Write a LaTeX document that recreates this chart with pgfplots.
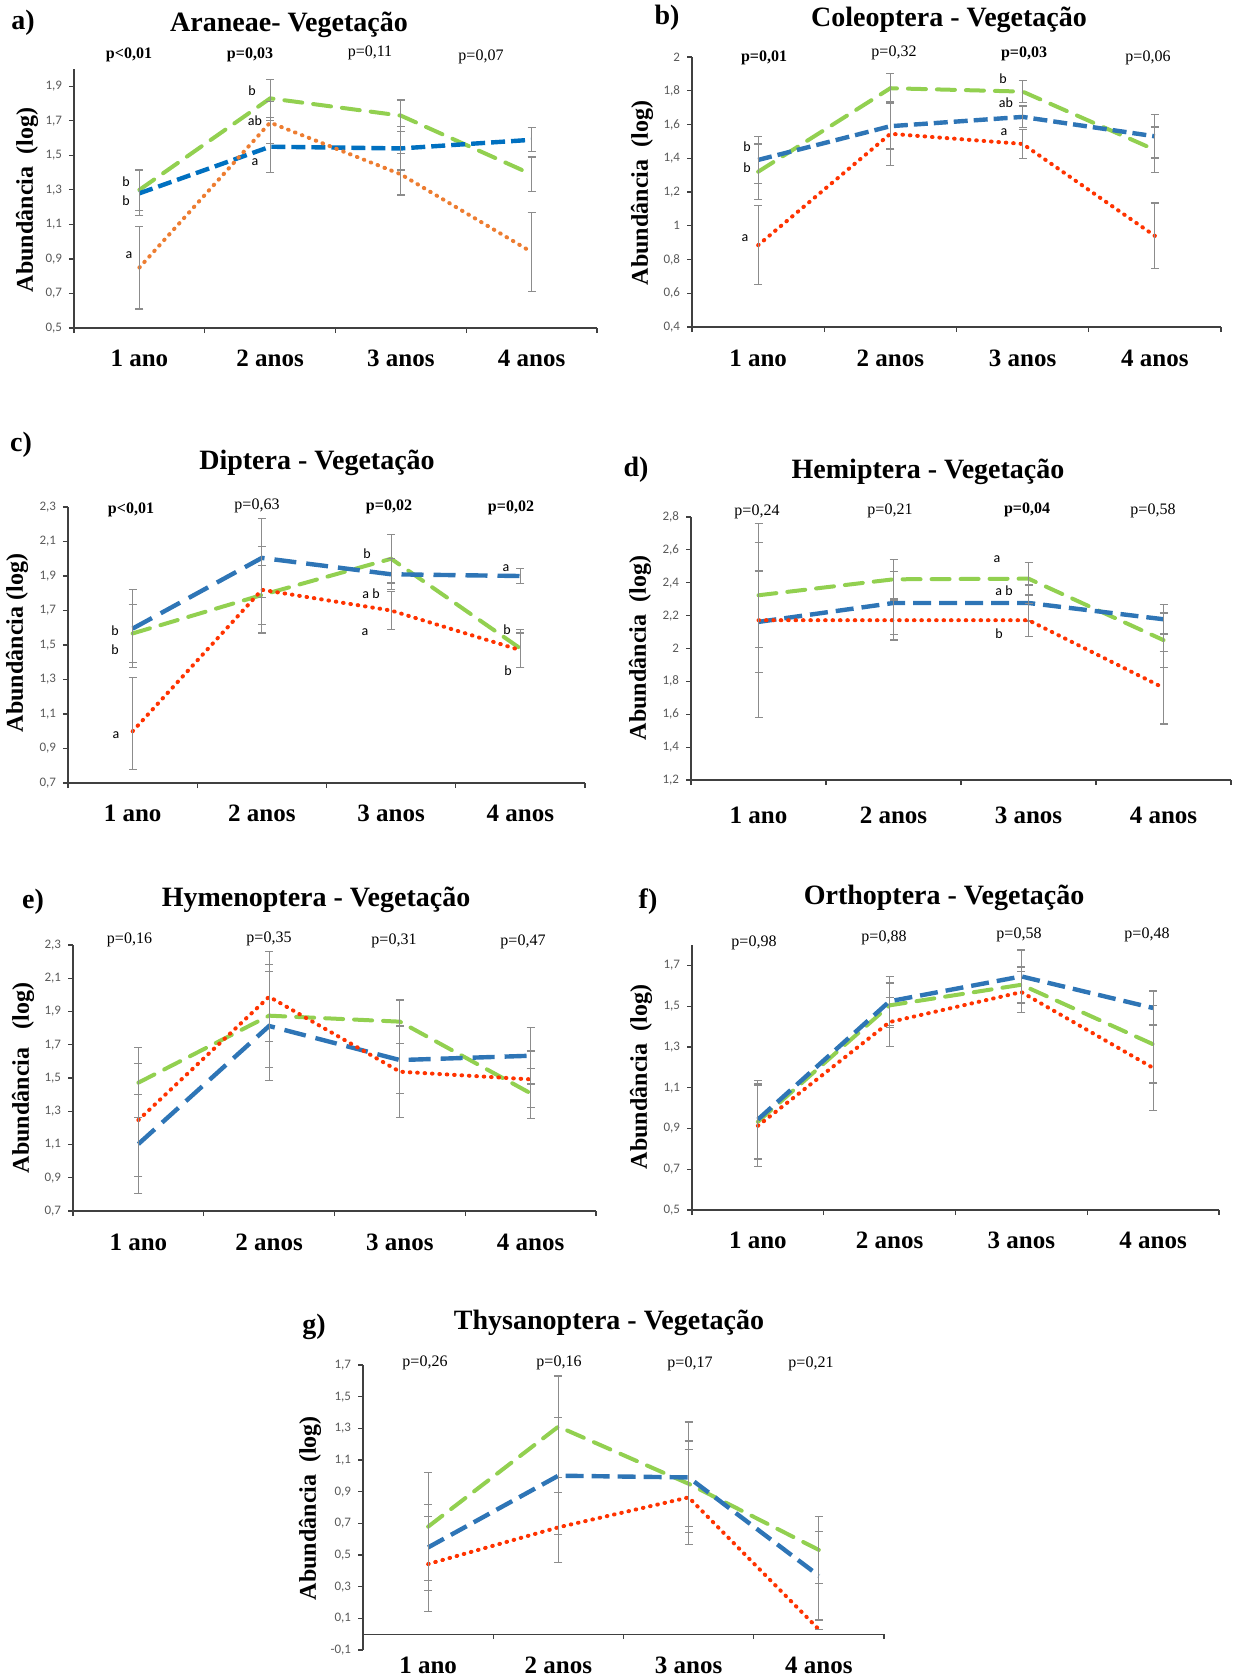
\documentclass[border=0pt]{standalone}
\usepackage{fontspec}
\setmainfont{Liberation Serif}
\newfontfamily\carlito{Carlito}
\usepackage{pgfplots}
\pgfplotsset{compat=1.18}
\definecolor{grn}{HTML}{92D050}
\definecolor{bluA}{HTML}{0070C0}
\definecolor{blu}{HTML}{2E75B6}
\definecolor{orgA}{HTML}{ED7D31}
\definecolor{redB}{HTML}{FF3300}
\definecolor{axisgray}{HTML}{404040}
\definecolor{tickgray}{HTML}{595959}
\definecolor{errgray}{HTML}{8C8C8C}
\pgfplotsset{
  panel/.style={
    scale only axis, clip=false, anchor=south west,
    xmin=0, xmax=4, xtick={0,1,2,3,4}, xticklabels={},
    axis y line*=left, axis x line*=bottom,
    axis line style={draw=axisgray, line width=0.6pt},
    tick align=outside, major tick length=2.5pt,
    tick style={draw=axisgray, line width=0.6pt},
    yticklabel style={font=\carlito\fontsize{6.5}{7}\selectfont, text=tickgray},
    /pgf/number format/use comma, /pgf/number format/fixed,
    /pgf/number format/precision=1, /pgf/number format/assume math mode=true,
  },
  eb/.style={error bars/y dir=both, error bars/y explicit,
    error bars/error bar style={draw=errgray, line width=0.6pt, solid, line cap=butt},
    error bars/error mark options={draw=errgray, rotate=90, mark size=2pt, line width=0.6pt, solid}},
  grnline/.style={eb, color=grn, line width=2pt, dash pattern=on 9pt off 5.5pt, line cap=round, mark=none},
  bluline/.style={eb, color=#1, line width=2.2pt, dash pattern=on 7pt off 3pt, mark=none},
  bluline/.default=blu,
  bluelong/.style={eb, color=blu, line width=2.2pt, dash pattern=on 11pt off 5pt, mark=none},
  bluemid/.style={eb, color=blu, line width=2.2pt, dash pattern=on 9pt off 4pt, mark=none},
  redline/.style={eb, color=#1, line width=2pt, dash pattern=on 0.3pt off 3.4pt, line cap=round, mark=none},
  redline/.default=redB,
}
\newcommand{\ttl}{\bfseries\fontsize{14}{16}\selectfont}
\newcommand{\cat}{\bfseries\fontsize{12.5}{14}\selectfont}
\newcommand{\ylab}{\bfseries\fontsize{12}{14}\selectfont}
\newcommand{\pv}{\fontsize{8}{9}\selectfont}
\newcommand{\pb}{\bfseries\fontsize{8}{9}\selectfont}
\newcommand{\lt}{\carlito\fontsize{7}{8}\selectfont}
\begin{document}
\begin{tikzpicture}
\useasboundingbox (0,0) rectangle (617.5pt,-838.5pt);
% ---------- a) Araneae
\begin{axis}[panel, at={(37pt,-164pt)}, width=261.5pt, height=129.5pt,
  ymin=0.5, ymax=2.0, ytick={0.5,0.7,0.9,1.1,1.3,1.5,1.7,1.9}]
\addplot[grnline] coordinates {(0.5,1.30) +- (0,0.12) (1.5,1.83) +- (0,0.11) (2.5,1.73) +- (0,0.09) (3.5,1.39) +- (0,0.10)};
\addplot[bluline=bluA] coordinates {(0.5,1.28) +- (0,0.13) (1.5,1.55) +- (0,0.15) (2.5,1.54) +- (0,0.125) (3.5,1.59) +- (0,0.07)};
\addplot[redline=orgA] coordinates {(0.5,0.85) +- (0,0.24) (1.5,1.69) +- (0,0.12) (2.5,1.39) +- (0,0.12) (3.5,0.94) +- (0,0.23)};
\end{axis}
% ---------- b) Coleoptera
\begin{axis}[panel, at={(346pt,-163.5pt)}, width=264.5pt, height=135pt,
  ymin=0.4, ymax=2.0, ytick={0.4,0.6,0.8,1,1.2,1.4,1.6,1.8,2}]
\addplot[grnline] coordinates {(0.5,1.32) +- (0,0.165) (1.5,1.815) +- (0,0.085) (2.5,1.795) +- (0,0.065) (3.5,1.45) +- (0,0.135)};
\addplot[bluline] coordinates {(0.5,1.39) +- (0,0.14) (1.5,1.59) +- (0,0.135) (2.5,1.645) +- (0,0.065) (3.5,1.53) +- (0,0.128)};
\addplot[redline] coordinates {(0.5,0.885) +- (0,0.235) (1.5,1.545) +- (0,0.19) (2.5,1.485) +- (0,0.085) (3.5,0.94) +- (0,0.195)};
\end{axis}
% ---------- c) Diptera
\begin{axis}[panel, at={(34pt,-391.5pt)}, width=258.5pt, height=138pt,
  ymin=0.7, ymax=2.3, ytick={0.7,0.9,1.1,1.3,1.5,1.7,1.9,2.1,2.3}]
\addplot[grnline] coordinates {(0.5,1.567) +- (0,0.17) (1.5,1.79) +- (0,0.17) (2.5,2.0) +- (0,0.14) (3.5,1.48) +- (0,0.11)};
\addplot[bluelong] coordinates {(0.5,1.595) +- (0,0.225) (1.5,2.005) +- (0,0.228) (2.5,1.91) +- (0,0.09) (3.5,1.90) +- (0,0.042)};
\addplot[redline] coordinates {(0.5,1.0) += (0,0.31) -= (0,0.22) (1.5,1.82) +- (0,0.25) (2.5,1.70) +- (0,0.11) (3.5,1.47) +- (0,0.10)};
\end{axis}
% ---------- d) Hemiptera
\begin{axis}[panel, at={(345.5pt,-390pt)}, width=270pt, height=131.5pt,
  ymin=1.2, ymax=2.8, ytick={1.2,1.4,1.6,1.8,2,2.2,2.4,2.6,2.8}]
\addplot[grnline] coordinates {(0.5,2.324) +- (0,0.32) (1.5,2.421) +- (0,0.12) (2.5,2.425) +- (0,0.10) (3.5,2.051) +- (0,0.165)};
\addplot[bluemid] coordinates {(0.5,2.162) +- (0,0.31) (1.5,2.277) +- (0,0.19) (2.5,2.277) +- (0,0.11) (3.5,2.178) +- (0,0.09)};
\addplot[redline] coordinates {(0.5,2.172) +- (0,0.59) (1.5,2.172) +- (0,0.12) (2.5,2.172) +- (0,0.10) (3.5,1.761) +- (0,0.22)};
\end{axis}
% ---------- e) Hymenoptera
\begin{axis}[panel, at={(36.5pt,-605.5pt)}, width=261.5pt, height=133pt,
  ymin=0.7, ymax=2.3, ytick={0.7,0.9,1.1,1.3,1.5,1.7,1.9,2.1,2.3}]
\addplot[grnline] coordinates {(0.5,1.472) +- (0,0.21) (1.5,1.875) +- (0,0.31) (2.5,1.839) +- (0,0.13) (3.5,1.408) +- (0,0.15)};
\addplot[bluelong] coordinates {(0.5,1.103) +- (0,0.30) (1.5,1.813) +- (0,0.33) (2.5,1.608) +- (0,0.20) (3.5,1.634) +- (0,0.17)};
\addplot[redline] coordinates {(0.5,1.247) +- (0,0.34) (1.5,1.989) +- (0,0.27) (2.5,1.538) +- (0,0.275) (3.5,1.492) +- (0,0.17)};
\end{axis}
% ---------- f) Orthoptera
\begin{axis}[panel, at={(346pt,-605pt)}, width=263.5pt, height=132.5pt,
  ymin=0.5, ymax=1.8, ytick={0.5,0.7,0.9,1.1,1.3,1.5,1.7}]
\addplot[grnline] coordinates {(0.5,0.933) +- (0,0.185) (1.5,1.504) +- (0,0.11) (2.5,1.605) +- (0,0.087) (3.5,1.313) +- (0,0.19)};
\addplot[bluemid] coordinates {(0.5,0.944) +- (0,0.19) (1.5,1.524) +- (0,0.12) (2.5,1.646) +- (0,0.13) (3.5,1.491) +- (0,0.083)};
\addplot[redline] coordinates {(0.5,0.913) +- (0,0.20) (1.5,1.422) +- (0,0.12) (2.5,1.569) +- (0,0.10) (3.5,1.197) +- (0,0.21)};
\end{axis}
% ---------- g) Thysanoptera
\begin{axis}[panel, at={(181.5pt,-825pt)}, width=260.5pt, height=142.5pt,
  axis x line*=middle,
  ymin=-0.1, ymax=1.7, ytick={-0.1,0.1,0.3,0.5,0.7,0.9,1.1,1.3,1.5,1.7}]
\addplot[grnline] coordinates {(0.5,0.679) +- (0,0.34) (1.5,1.311) +- (0,0.32) (2.5,0.95) +- (0,0.27) (3.5,0.532) +- (0,0.21)};
\addplot[bluemid] coordinates {(0.5,0.548) +- (0,0.27) (1.5,1.001) +- (0,0.37) (2.5,0.99) +- (0,0.35) (3.5,0.369) +- (0,0.28)};
\addplot[redline] coordinates {(0.5,0.443) +- (0,0.30) (1.5,0.675) +- (0,0.22) (2.5,0.864) +- (0,0.30) (3.5,0.03) +- (0,0)};
\end{axis}
% ---------- texts (pixel coordinates of the reference)
\begin{scope}[x=0.5pt, y=-0.5pt]
% a
\node[font=\ttl] at (23,23) {a)};
\node[font=\ttl] at (289,25) {Araneae- Vegetação};
\node[font=\ylab, rotate=90] at (27,200) {Abundância\ \ (log)};
\node[font=\pb] at (129,55) {p<0,01};
\node[font=\pb] at (250,55) {p=0,03};
\node[font=\pv] at (370,53) {p=0,11};
\node[font=\pv] at (481,57) {p=0,07};
\foreach \x/\t in {139.4/1 ano,270.1/2 anos,400.9/3 anos,531.6/4 anos} \node[font=\cat] at (\x,358) {\t};
\node[font=\lt] at (126,182) {b};
\node[font=\lt] at (126,201) {b};
\node[font=\lt] at (129,255) {a};
\node[font=\lt] at (252,91) {b};
\node[font=\lt] at (255,121) {ab};
\node[font=\lt] at (255,162) {a};
% b
\node[font=\ttl] at (667,18) {b)};
\node[font=\ttl] at (949,20) {Coleoptera - Vegetação};
\node[font=\ylab, rotate=90] at (642,193) {Abundância\ \ (log)};
\node[font=\pb] at (764,58) {p=0,01};
\node[font=\pv] at (894,53) {p=0,32};
\node[font=\pb] at (1024,54) {p=0,03};
\node[font=\pv] at (1148,58) {p=0,06};
\foreach \x/\t in {758.1/1 ano,890.4/2 anos,1022.6/3 anos,1154.9/4 anos} \node[font=\cat] at (\x,358) {\t};
\node[font=\lt] at (747,147) {b};
\node[font=\lt] at (747,168) {b};
\node[font=\lt] at (745,238) {a};
\node[font=\lt] at (1003,79) {b};
\node[font=\lt] at (1006,103) {ab};
\node[font=\lt] at (1004,132) {a};
% c
\node[font=\ttl] at (21,445) {c)};
\node[font=\ttl] at (317,463) {Diptera - Vegetação};
\node[font=\ylab, rotate=90] at (17,643) {Abundância (log)};
\node[font=\pb] at (131,510) {p<0,01};
\node[font=\pv] at (257,506) {p=0,63};
\node[font=\pb] at (389,507) {p=0,02};
\node[font=\pb] at (511,508) {p=0,02};
\foreach \x/\t in {132.6/1 ano,261.9/2 anos,391.1/3 anos,520.4/4 anos} \node[font=\cat] at (\x,813) {\t};
\node[font=\lt] at (115,631) {b};
\node[font=\lt] at (115,650) {b};
\node[font=\lt] at (116,735) {a};
\node[font=\lt] at (367,554) {b};
\node[font=\lt] at (371,594) {a b};
\node[font=\lt] at (365,632) {a};
\node[font=\lt] at (506,568) {a};
\node[font=\lt] at (507,630) {b};
\node[font=\lt] at (508,671) {b};
% d
\node[font=\ttl] at (636,470) {d)};
\node[font=\ttl] at (928,472) {Hemiptera - Vegetação};
\node[font=\ylab, rotate=90] at (640,648) {Abundância\ \ (log)};
\node[font=\pv] at (757,512) {p=0,24};
\node[font=\pv] at (890,511) {p=0,21};
\node[font=\pb] at (1027,510) {p=0,04};
\node[font=\pv] at (1153,511) {p=0,58};
\foreach \x/\t in {758.5/1 ano,893.5/2 anos,1028.5/3 anos,1163.5/4 anos} \node[font=\cat] at (\x,815) {\t};
\node[font=\lt] at (997,559) {a};
\node[font=\lt] at (1004,591) {a b};
\node[font=\lt] at (999,634) {b};
% e
\node[font=\ttl] at (33,902) {e)};
\node[font=\ttl] at (316,900) {Hymenoptera - Vegetação};
\node[font=\ylab, rotate=90] at (23,1078) {Abundância\ \ \ (log)};
\node[font=\pv] at (129.5,940) {p=0,16};
\node[font=\pv] at (269,939) {p=0,35};
\node[font=\pv] at (394,941) {p=0,31};
\node[font=\pv] at (523,942) {p=0,47};
\foreach \x/\t in {138.4/1 ano,269.1/2 anos,399.9/3 anos,530.6/4 anos} \node[font=\cat] at (\x,1242) {\t};
% f
\node[font=\ttl] at (648,902) {f)};
\node[font=\ttl] at (944,898) {Orthoptera - Vegetação};
\node[font=\ylab, rotate=90] at (641,1077) {Abundância\ \ (log)};
\node[font=\pv] at (754,943) {p=0,98};
\node[font=\pv] at (884,938) {p=0,88};
\node[font=\pv] at (1019,935) {p=0,58};
\node[font=\pv] at (1147,935) {p=0,48};
\foreach \x/\t in {757.9/1 ano,889.6/2 anos,1021.4/3 anos,1153.1/4 anos} \node[font=\cat] at (\x,1240) {\t};
% g
\node[font=\ttl] at (314,1327) {g)};
\node[font=\ttl] at (609,1323) {Thysanoptera - Vegetação};
\node[font=\ylab, rotate=90] at (310,1508) {Abundância\ \ (log)};
\node[font=\pv] at (425,1363) {p=0,26};
\node[font=\pv] at (559,1363) {p=0,16};
\node[font=\pv] at (690,1364) {p=0,17};
\node[font=\pv] at (811,1364) {p=0,21};
\foreach \x/\t in {428.1/1 ano,558.4/2 anos,688.6/3 anos,818.9/4 anos} \node[font=\cat] at (\x,1665) {\t};
\end{scope}
\end{tikzpicture}
\end{document}
